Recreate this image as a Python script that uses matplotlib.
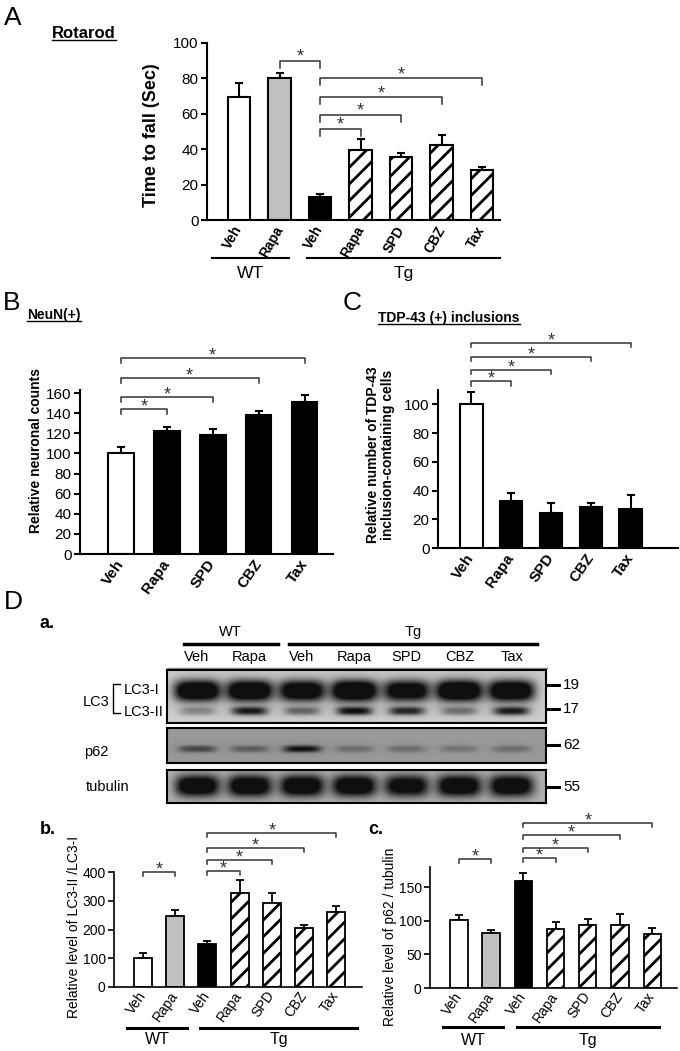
import numpy as np
import matplotlib
matplotlib.use('Agg')
import matplotlib.pyplot as plt
from matplotlib.lines import Line2D
from matplotlib.transforms import blended_transform_factory

plt.rcParams['font.family'] = ['Liberation Sans', 'DejaVu Sans']
plt.rcParams['hatch.linewidth'] = 2.0

# ---- data ----
# A: rotarod (WT Veh, WT Rapa, Tg Veh, Tg Rapa, SPD, CBZ, Tax)
rot_labels = ['Veh', 'Rapa', 'Veh', 'Rapa', 'SPD', 'CBZ', 'Tax']
rot_mean = [69.5, 80.3, 12.8, 39.3, 35.5, 42.3, 28.0]
rot_err = [8.1, 3.0, 2.0, 6.6, 2.5, 5.6, 2.0]
rot_sig = [(1, 2, 90), (2, 3, 51.5), (2, 4, 59.5), (2, 5, 69.5), (2, 6, 80)]

# B: NeuN(+)
drug_labels = ['Veh', 'Rapa', 'SPD', 'CBZ', 'Tax']
neun_mean = [100.5, 122, 118.7, 137.9, 151]
neun_err = [5.9, 4, 5.9, 4.1, 6.7]
neun_sig = [(0, 1, 144), (0, 2, 156), (0, 3, 175), (0, 4, 195)]

# C: TDP-43 inclusions
tdp_mean = [100, 32.4, 24.3, 28.5, 26.9]
tdp_err = [8.3, 5.8, 7.0, 3.0, 9.7]
tdp_sig = [(0, 1, 116), (0, 2, 124), (0, 3, 133), (0, 4, 143)]

# D b: LC3-II / LC3-I
lc3_mean = [100, 247, 150, 327, 293, 206, 261]
lc3_err = [18, 21, 10, 46, 35, 10, 22]
lc3_sig = [(0, 1, 400), (2, 3, 403), (2, 4, 442), (2, 5, 483), (2, 6, 536)]

# D c: p62 / tubulin
p62_mean = [100.8, 82, 159, 88, 93.5, 93.5, 81]
p62_err = [7.9, 5, 12, 10, 8.5, 17.2, 8]
p62_sig = [(0, 1, 192), (2, 3, 193), (2, 4, 208), (2, 5, 227), (2, 6, 245)]

# D a: western blot, relative band darkness per lane
lane_names = ['Veh', 'Rapa', 'Veh', 'Rapa', 'SPD', 'CBZ', 'Tax']
band_lc3i = [1.3, 1.3, 1.2, 1.35, 1.15, 1.35, 1.3]
band_lc3ii = [0.3, 0.8, 0.45, 0.85, 0.75, 0.4, 0.8]
band_p62 = [0.55, 0.4, 0.9, 0.3, 0.3, 0.25, 0.3]
band_tub = [1.2, 1.2, 1.2, 1.2, 1.1, 1.2, 1.2]
markers_lc3 = [('19', 0.72), ('17', 0.26)]

W, H = 680, 1051
fig = plt.figure(figsize=(6.8, 10.51), dpi=100)

faces7 = ['white', '#c0c0c0', 'black', 'white', 'white', 'white', 'white']
hatch7 = ['', '', '', '//', '//', '//', '//']
faces5 = ['white', 'black', 'black', 'black', 'black']


def px_axes(l, t, r, b):
    return fig.add_axes([l / W, 1 - b / H, (r - l) / W, (b - t) / H])


def ftext(x, y, s, **kw):
    return fig.text(x / W, 1 - y / H, s, **kw)


def bars(ax, vals, errs, faces, hatches, width, lw, cap):
    x = np.arange(len(vals))
    for xi, v, fc, h in zip(x, vals, faces, hatches):
        ax.bar(xi, v, width, color=fc, edgecolor='k', hatch=h, linewidth=lw, zorder=2)
    ax.errorbar(x, vals, yerr=[np.zeros(len(vals)), errs], fmt='none', ecolor='k',
                elinewidth=lw, capsize=cap, capthick=lw, zorder=1)


def style(ax, xlim, ylim, yticks, fs, lw):
    ax.set_xlim(xlim)
    ax.set_ylim(ylim)
    ax.set_yticks(yticks)
    ax.spines['top'].set_visible(False)
    ax.spines['right'].set_visible(False)
    ax.spines['left'].set_linewidth(lw)
    ax.spines['bottom'].set_linewidth(lw)
    ax.tick_params(axis='y', direction='out', length=4, width=lw, labelsize=fs, pad=2)
    ax.tick_params(axis='x', length=0)
    ax.patch.set_visible(False)


def xlabels(ax, labels, fs, bold, rot=60, pad=4):
    ax.set_xticks(np.arange(len(labels)))
    ax.set_xticklabels(labels, rotation=rot, ha='right', va='center', rotation_mode='anchor',
                       fontsize=fs, fontweight='bold' if bold else 'normal')
    ax.tick_params(axis='x', pad=pad)


def sig(ax, pairs, drop, off, fs=13):
    for i, j, h in pairs:
        ax.plot([i, i, j, j], [h - drop, h, h, h - drop], color='#333333', lw=1.1, clip_on=False)
        ax.annotate('*', xy=((i + j) / 2, h), xytext=(0, off), textcoords='offset points',
                    ha='center', va='center', fontsize=fs, color='#333333', annotation_clip=False)


def groups(ax, spans, yline, ytext, fs, lw):
    tr = blended_transform_factory(ax.transData, ax.transAxes)
    for name, x0, x1 in spans:
        ax.plot([x0, x1], [yline, yline], color='k', lw=lw, transform=tr, clip_on=False)
        ax.text((x0 + x1) / 2, ytext, name, transform=tr, ha='center', va='center', fontsize=fs)


def ylab(ax, x, y, s, fs, bold):
    ax.text(x, y, s, transform=ax.transAxes, rotation=90, ha='center', va='center',
            fontsize=fs, fontweight='bold' if bold else 'normal', linespacing=1.1)


# ---- A ----
axA = px_axes(207, 43, 500, 220)
bars(axA, rot_mean, rot_err, faces7, hatch7, 0.55, 1.5, 3)
style(axA, (-0.79, 6.44), (0, 100), range(0, 101, 20), 11, 1.5)
xlabels(axA, rot_labels, 10, True, pad=5)
sig(axA, rot_sig, 4, 2.5)
groups(axA, [('WT', -0.67, 1.23), ('Tg', 1.68, 6.44)], -0.215, -0.30, 12.5, 1.5)
ylab(axA, -0.19, 0.48, 'Time to fall (Sec)', 13, True)

# ---- B ----
axB = px_axes(80, 390, 333, 554)
bars(axB, neun_mean, neun_err, faces5, [''] * 5, 0.56, 1.5, 3)
style(axB, (-0.89, 4.62), (0, 163), range(0, 161, 20), 11, 1.5)
xlabels(axB, drug_labels, 11, True, rot=55, pad=5)
sig(axB, neun_sig, 5, 1.5)
ylab(axB, -0.175, 0.63, 'Relative neuronal counts', 10, True)

# ---- C ----
axC = px_axes(438, 390, 678, 548)
bars(axC, tdp_mean, tdp_err, faces5, [''] * 5, 0.57, 1.5, 3)
style(axC, (-0.83, 5.18), (0, 110), range(0, 101, 20), 11, 1.5)
xlabels(axC, drug_labels, 11, True, rot=55, pad=5)
sig(axC, tdp_sig, 3, 1.5)
ylab(axC, -0.24, 0.59, 'Relative number of TDP-43\ninclusion-containing cells', 10, True)

# ---- D a: western blot ----
blot_xlim = (-0.57, 6.65)


def strip(t, b, rows, bg):
    ax = px_axes(167, t, 546, b)
    xs = np.linspace(blot_xlim[0], blot_xlim[1], 380)
    ys = np.linspace(0, 1, b - t)
    X, Y = np.meshgrid(xs, ys)
    dark = np.zeros_like(X)
    for inten, yc, hx, hy in rows:
        for k, v in enumerate(inten):
            dark += v * np.exp(-(np.abs(X - k) / hx) ** 4 - (np.abs(Y - yc) / hy) ** 2.5)
            dark += 0.12 * v * np.exp(-(np.abs(X - k) / (hx * 1.3)) ** 2 - (np.abs(Y - yc) / (hy * 2)) ** 2)
    dark = np.clip(dark, 0, 1)
    img = bg * (1 - dark) + 0.06 * dark
    ax.imshow(img, cmap='gray', vmin=0, vmax=1, aspect='auto', interpolation='bilinear',
              extent=(blot_xlim[0], blot_xlim[1], 1, 0))
    ax.set_xlim(blot_xlim)
    ax.set_ylim(1, 0)
    ax.set_xticks([])
    ax.set_yticks([])
    for s in ax.spines.values():
        s.set_linewidth(1.5)
    return ax


axL = strip(670, 723, [(band_lc3i, 0.39, 0.44, 0.2), (band_lc3ii, 0.78, 0.34, 0.08)], 0.82)
axP = strip(728, 763, [(band_p62, 0.60, 0.36, 0.10)], 0.6)
axT = strip(770, 803, [(band_tub, 0.48, 0.42, 0.33)], 0.72)

trL = blended_transform_factory(axL.transData, axL.transAxes)
for k, name in enumerate(lane_names):
    axL.text(k, 1.24, name, transform=trL, ha='center', va='center', fontsize=10.5)
for name, x0, x1 in [('WT', -0.25, 1.54), ('Tg', 1.75, 6.48)]:
    axL.plot([x0, x1], [1.49, 1.49], color='k', lw=2.5, transform=trL, clip_on=False)
    axL.text((x0 + x1) / 2, 1.72, name, transform=trL, ha='center', va='center', fontsize=10.5)
axL.plot([blot_xlim[0], blot_xlim[1] + 0.02], [1.045, 1.045], color='#888888', lw=1,
         transform=trL, clip_on=False)


def marker(ax, lab, y):
    ax.plot([1.002, 1.034], [y, y], color='k', lw=2.2, transform=ax.transAxes, clip_on=False)
    ax.text(1.045, y, lab, transform=ax.transAxes, ha='left', va='center', fontsize=11)


for lab, y in markers_lc3:
    marker(axL, lab, y)
marker(axP, '62', 0.51)
marker(axT, '55', 0.48)

axL.text(-0.222, 0.40, 'LC3', transform=axL.transAxes, ha='left', va='center', fontsize=10.5)
axL.plot([-0.124, -0.142, -0.142, -0.124], [0.74, 0.74, 0.19, 0.19], color='k', lw=1,
         transform=axL.transAxes, clip_on=False)
axL.text(-0.113, 0.62, 'LC3-I', transform=axL.transAxes, ha='left', va='center', fontsize=10.5)
axL.text(-0.113, 0.21, 'LC3-II', transform=axL.transAxes, ha='left', va='center', fontsize=10.5)
axP.text(-0.219, 0.31, 'p62', transform=axP.transAxes, ha='left', va='center', fontsize=10.5)
axT.text(-0.214, 0.48, 'tubulin', transform=axT.transAxes, ha='left', va='center', fontsize=10.5)

# ---- D b ----
axb = px_axes(114, 872, 362, 987)
bars(axb, lc3_mean, lc3_err, faces7, hatch7, 0.56, 1.3, 3)
style(axb, (-0.9, 6.8), (0, 400), range(0, 401, 100), 10, 1.2)
xlabels(axb, rot_labels, 10, False, rot=55, pad=4)
sig(axb, lc3_sig, 14, 1.5)
groups(axb, [('WT', -0.5, 1.37), ('Tg', 1.77, 6.65)], -0.357, -0.46, 11.5, 2.2)
ylab(axb, -0.16, 0.52, 'Relative level of LC3-II /LC3-I', 10, False)

# ---- D c ----
axc = px_axes(430, 867, 677, 988)
bars(axc, p62_mean, p62_err, faces7, hatch7, 0.54, 1.3, 3)
style(axc, (-0.9, 6.77), (0, 180), range(0, 151, 50), 10, 1.2)
xlabels(axc, rot_labels, 10, False, rot=55, pad=4)
sig(axc, p62_sig, 6, 1.5)
groups(axc, [('WT', -0.5, 1.37), ('Tg', 1.8, 6.2)], -0.32, -0.43, 11.5, 2.2)
ylab(axc, -0.162, 0.42, 'Relative level of p62 / tubulin', 10, False)

# ---- panel letters and titles ----
for s, x, y in [('A', 13, 18), ('B', 12, 303), ('C', 352, 303), ('D', 13, 602)]:
    ftext(x, y, s, fontsize=19, ha='center', va='center')
for s, x, y in [('a.', 40, 623), ('b.', 40, 830), ('c.', 368, 830)]:
    ftext(x, y, s, fontsize=13, fontweight='bold', ha='left', va='center')

titles = [ftext(52, 33, 'Rotarod', fontsize=12, fontweight='bold', ha='left', va='center'),
          ftext(27, 315, 'NeuN(+)', fontsize=10, fontweight='bold', ha='left', va='center'),
          ftext(378, 318, 'TDP-43 (+) inclusions', fontsize=10, fontweight='bold', ha='left', va='center')]
fig.canvas.draw()
for t in titles:
    bb = t.get_window_extent()
    fig.add_artist(Line2D([bb.x0 / W, bb.x1 / W], [(bb.y0 + 1) / H] * 2,
                          transform=fig.transFigure, color='k', lw=1))

fig.savefig('out.png', dpi=100)
